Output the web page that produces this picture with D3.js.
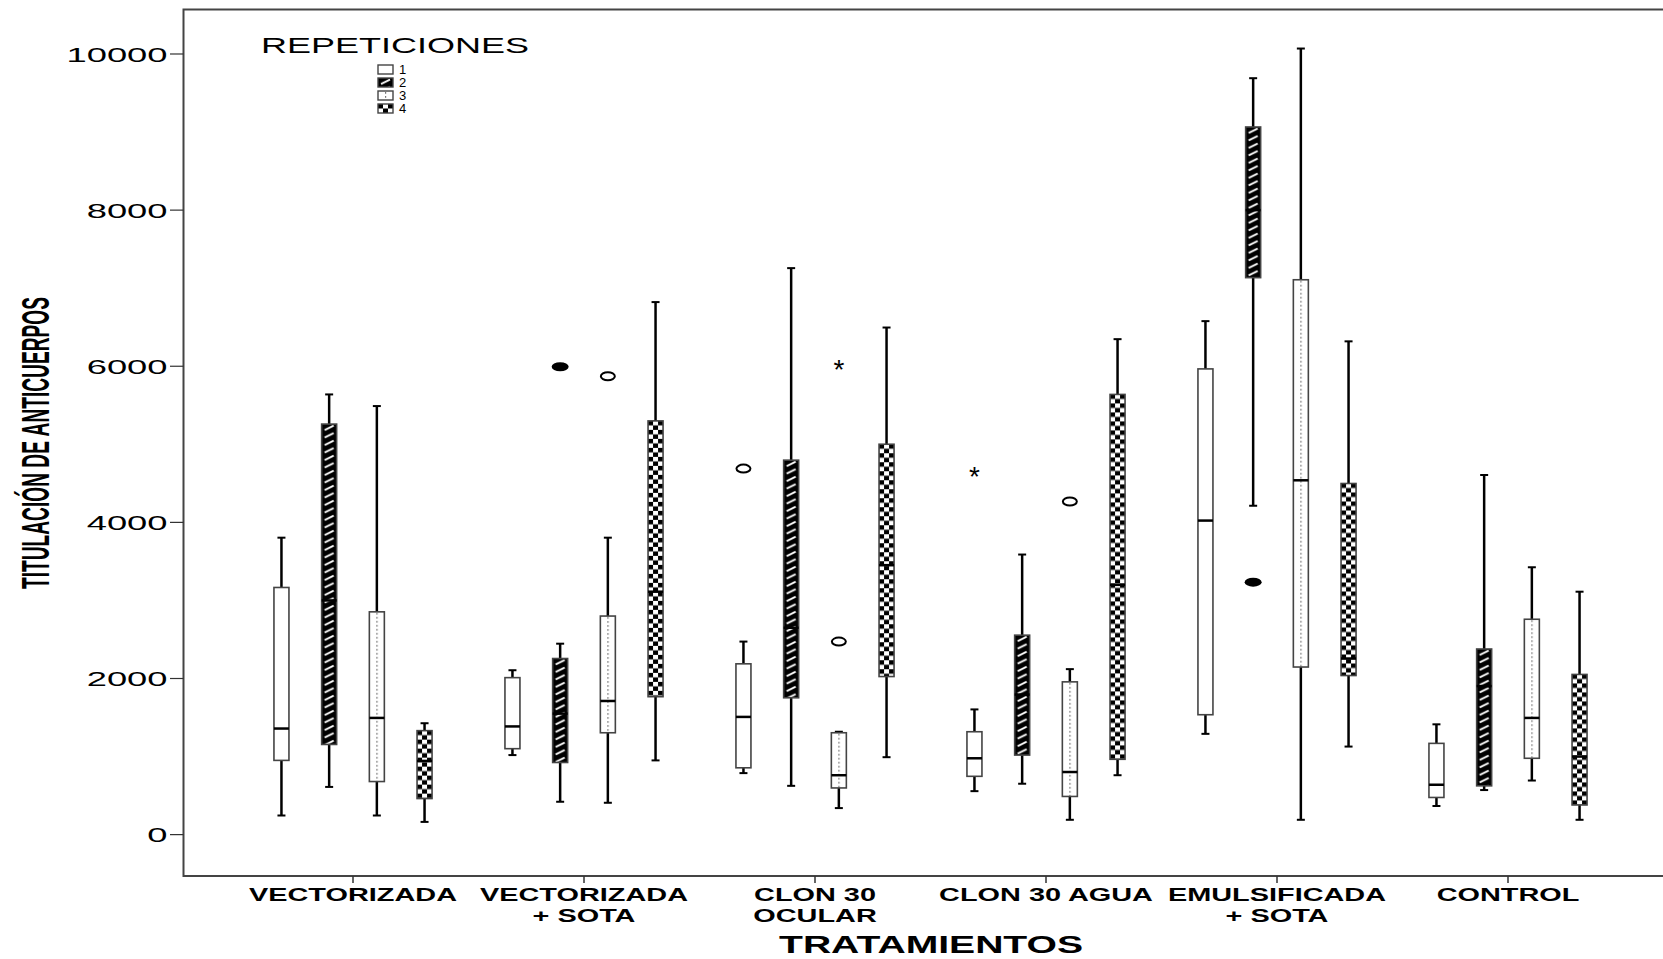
<!DOCTYPE html>
<html>
<head>
<meta charset="utf-8">
<script src="https://cdn.jsdelivr.net/npm/d3@7"></script>
<style>
  html, body { margin: 0; padding: 0; background: #fff; }
  svg { display: block; font-family: "Liberation Sans", Arial, sans-serif; }
</style>
</head>
<body>
<svg id="chart" width="1663" height="959"></svg>
<script>
// ---------- DATA ----------
const categories = ["VECTORIZADA", "VECTORIZADA + SOTA", "CLON 30 OCULAR", "CLON 30 AGUA", "EMULSIFICADA + SOTA", "CONTROL"];
const categoryLines = [["VECTORIZADA"], ["VECTORIZADA", "+ SOTA"], ["CLON 30", "OCULAR"], ["CLON 30 AGUA"], ["EMULSIFICADA", "+ SOTA"], ["CONTROL"]];
const repetitions = ["1", "2", "3", "4"];
const yTicks = [0, 2000, 4000, 6000, 8000, 10000];

// per category: values for repetitions 1..4
const whiskerLow  = [[245, 611, 245, 163], [1019, 421, 408, 951], [788, 625, 340, 992], [557, 652, 190, 761], [1291, 4213, 190, 1128], [367, 571, 693, 190]];
const q1          = [[951, 1155, 680, 462], [1101, 924, 1305, 1767], [856, 1753, 598, 2025], [747, 1019, 489, 965], [1536, 7135, 2147, 2038], [476, 625, 978, 380]];
const medians     = [[1359, 3000, 1495, 944], [1386, 1550, 1712, 3112], [1508, 2650, 761, 3452], [978, 1794, 802, 3200], [4023, 8000, 4539, 2256], [639, 1903, 1495, 1000]];
const q3          = [[3166, 5259, 2854, 1332], [2011, 2256, 2800, 5300], [2188, 4797, 1305, 5001], [1318, 2555, 1957, 5639], [5966, 9065, 7108, 4498], [1169, 2378, 2759, 2052]];
const whiskerHigh = [[3804, 5639, 5490, 1427], [2106, 2446, 3804, 6822], [2473, 7257, 1318, 6496], [1604, 3588, 2120, 6347], [6578, 9690, 10070, 6319], [1413, 4607, 3425, 3112]];

const outlierCat   = [1, 1, 2, 2, 2, 3, 3, 4];
const outlierRep   = [1, 2, 0, 2, 2, 0, 2, 1];
const outlierValue = [5993, 5871, 4689, 6061, 2473, 4689, 4267, 3234];
const outlierShape = ["filled", "open", "open", "star", "open", "star", "open", "filled"];

// ---------- LAYOUT ----------
const svg = d3.select("#chart");
const frame = { left: 183.5, top: 9.5, right: 1700, bottom: 876 };
const y = d3.scaleLinear().domain([-530, 10570]).range([frame.bottom, frame.top]);
const x = d3.scaleBand().domain(categories).range([237.5, 1623.5]).padding(0);
const xr = d3.scaleBand().domain(repetitions).range([-95.4, 95.4]).padding(0);
const boxW = 15;

const defs = svg.append("defs");
function makePattern(id, rep, x0, y0) {
  let p;
  if (rep === 1) {
    p = defs.append("pattern").attr("id", id).attr("patternUnits", "userSpaceOnUse")
      .attr("x", x0).attr("y", y0).attr("width", 15).attr("height", 7.5);
    p.append("rect").attr("width", 15).attr("height", 7.5).attr("fill", "#000");
    p.append("line").attr("x1", 3).attr("y1", 6).attr("x2", 12).attr("y2", 1.5)
      .attr("stroke", "#fff").attr("stroke-width", 2);
  } else if (rep === 2) {
    p = defs.append("pattern").attr("id", id).attr("patternUnits", "userSpaceOnUse")
      .attr("x", x0).attr("y", y0).attr("width", 15).attr("height", 4);
    p.append("rect").attr("width", 15).attr("height", 4).attr("fill", "#fff");
    p.append("rect").attr("x", 7).attr("y", 1).attr("width", 1.2).attr("height", 1.8).attr("fill", "#777");
  } else if (rep === 3) {
    p = defs.append("pattern").attr("id", id).attr("patternUnits", "userSpaceOnUse")
      .attr("x", x0).attr("y", y0).attr("width", 10).attr("height", 9);
    p.append("rect").attr("width", 10).attr("height", 9).attr("fill", "#fff");
    p.append("rect").attr("x", 0).attr("y", 0).attr("width", 5).attr("height", 4.5).attr("fill", "#000");
    p.append("rect").attr("x", 5).attr("y", 4.5).attr("width", 5).attr("height", 4.5).attr("fill", "#000");
  }
  return p ? `url(#${id})` : "#fff";
}

// frame
svg.append("rect").attr("x", frame.left).attr("y", frame.top)
  .attr("width", frame.right - frame.left).attr("height", frame.bottom - frame.top)
  .attr("fill", "none").attr("stroke", "#444").attr("stroke-width", 2);

// y axis ticks & labels
const yAxis = svg.append("g");
yTicks.forEach(t => {
  yAxis.append("line").attr("x1", 170).attr("x2", frame.left).attr("y1", y(t)).attr("y2", y(t))
    .attr("stroke", "#333").attr("stroke-width", 1.2);
  const s = String(t);
  yAxis.append("text").attr("x", 167.5).attr("y", y(t)).attr("dy", "0.36em")
    .attr("text-anchor", "end").attr("font-size", 21).attr("fill", "#000")
    .attr("textLength", s.length * 20.2).attr("lengthAdjust", "spacingAndGlyphs").text(s);
});

// y title
svg.append("text").attr("transform", "translate(49,443) rotate(-90)")
  .attr("text-anchor", "middle").attr("font-size", 38).attr("font-weight", "bold")
  .attr("font-family", '"Liberation Sans Narrow", "Liberation Sans", Arial, sans-serif')
  .attr("textLength", 292).attr("lengthAdjust", "spacingAndGlyphs")
  .text("TITULACIÓN DE ANTICUERPOS");

// x ticks & labels
const xAxis = svg.append("g");
categories.forEach((c, i) => {
  const cx = x(c) + x.bandwidth() / 2;
  xAxis.append("line").attr("x1", cx).attr("x2", cx).attr("y1", frame.bottom).attr("y2", frame.bottom + 7)
    .attr("stroke", "#333").attr("stroke-width", 1.5);
  categoryLines[i].forEach((ln, j) => {
    xAxis.append("text").attr("transform", `translate(${cx},${901 + j * 21}) scale(1.52,1)`)
      .attr("text-anchor", "middle").attr("font-size", 19).attr("font-weight", "bold").text(ln);
  });
});
svg.append("text").attr("x", 931).attr("y", 953).attr("text-anchor", "middle")
  .attr("font-size", 24).attr("font-weight", "bold")
  .attr("textLength", 304).attr("lengthAdjust", "spacingAndGlyphs").text("TRATAMIENTOS");

// boxes
const plot = svg.append("g");
categories.forEach((c, ci) => {
  repetitions.forEach((r, ri) => {
    const cx = x(c) + x.bandwidth() / 2 + xr(r) + xr.bandwidth() / 2;
    const g = plot.append("g");
    const lw = 2.5;
    g.append("line").attr("x1", cx).attr("x2", cx).attr("y1", y(q3[ci][ri])).attr("y2", y(whiskerHigh[ci][ri]))
      .attr("stroke", "#000").attr("stroke-width", lw);
    g.append("line").attr("x1", cx).attr("x2", cx).attr("y1", y(q1[ci][ri])).attr("y2", y(whiskerLow[ci][ri]))
      .attr("stroke", "#000").attr("stroke-width", lw);
    [whiskerHigh[ci][ri], whiskerLow[ci][ri]].forEach(v => {
      g.append("line").attr("x1", cx - 4).attr("x2", cx + 4).attr("y1", y(v)).attr("y2", y(v))
        .attr("stroke", "#000").attr("stroke-width", 2);
    });
    const bx = cx - boxW / 2, by = y(q3[ci][ri]);
    const fill = makePattern(`p${ci}_${ri}`, ri, bx, by);
    g.append("rect").attr("x", bx).attr("y", by).attr("width", boxW)
      .attr("height", y(q1[ci][ri]) - y(q3[ci][ri]))
      .attr("fill", fill).attr("stroke", "#444").attr("stroke-width", 1.6);
    g.append("line").attr("x1", bx).attr("x2", bx + boxW).attr("y1", y(medians[ci][ri])).attr("y2", y(medians[ci][ri]))
      .attr("stroke", "#000").attr("stroke-width", 2.5);
  });
});

// outliers
outlierValue.forEach((v, k) => {
  const c = categories[outlierCat[k]], r = repetitions[outlierRep[k]];
  const cx = x(c) + x.bandwidth() / 2 + xr(r) + xr.bandwidth() / 2;
  const cy = y(v);
  const sh = outlierShape[k];
  if (sh === "filled") {
    plot.append("ellipse").attr("cx", cx).attr("cy", cy).attr("rx", 8.5).attr("ry", 4.5).attr("fill", "#000");
  } else if (sh === "open") {
    plot.append("ellipse").attr("cx", cx).attr("cy", cy).attr("rx", 7).attr("ry", 4)
      .attr("fill", "#fff").attr("stroke", "#000").attr("stroke-width", 2);
  } else {
    plot.append("text").attr("x", cx).attr("y", cy).attr("dy", "0.62em").attr("text-anchor", "middle")
      .attr("font-size", 28).text("*");
  }
});

// legend
const lg = svg.append("g");
lg.append("text").attr("x", 395).attr("y", 53).attr("text-anchor", "middle").attr("font-size", 22)
  .attr("textLength", 268).attr("lengthAdjust", "spacingAndGlyphs").text("REPETICIONES");
repetitions.forEach((r, i) => {
  const cy = 69.5 + i * 13;
  const sx = 378, sw = 15, sh = 9;
  const fill = makePattern(`lg${i}`, i, sx, cy - sh / 2);
  lg.append("rect").attr("x", sx).attr("y", cy - sh / 2).attr("width", sw).attr("height", sh)
    .attr("fill", fill).attr("stroke", "#444").attr("stroke-width", 1.4);
  lg.append("text").attr("x", 399).attr("y", cy + 4.5).attr("font-size", 13).text(r);
});
</script>
</body>
</html>
